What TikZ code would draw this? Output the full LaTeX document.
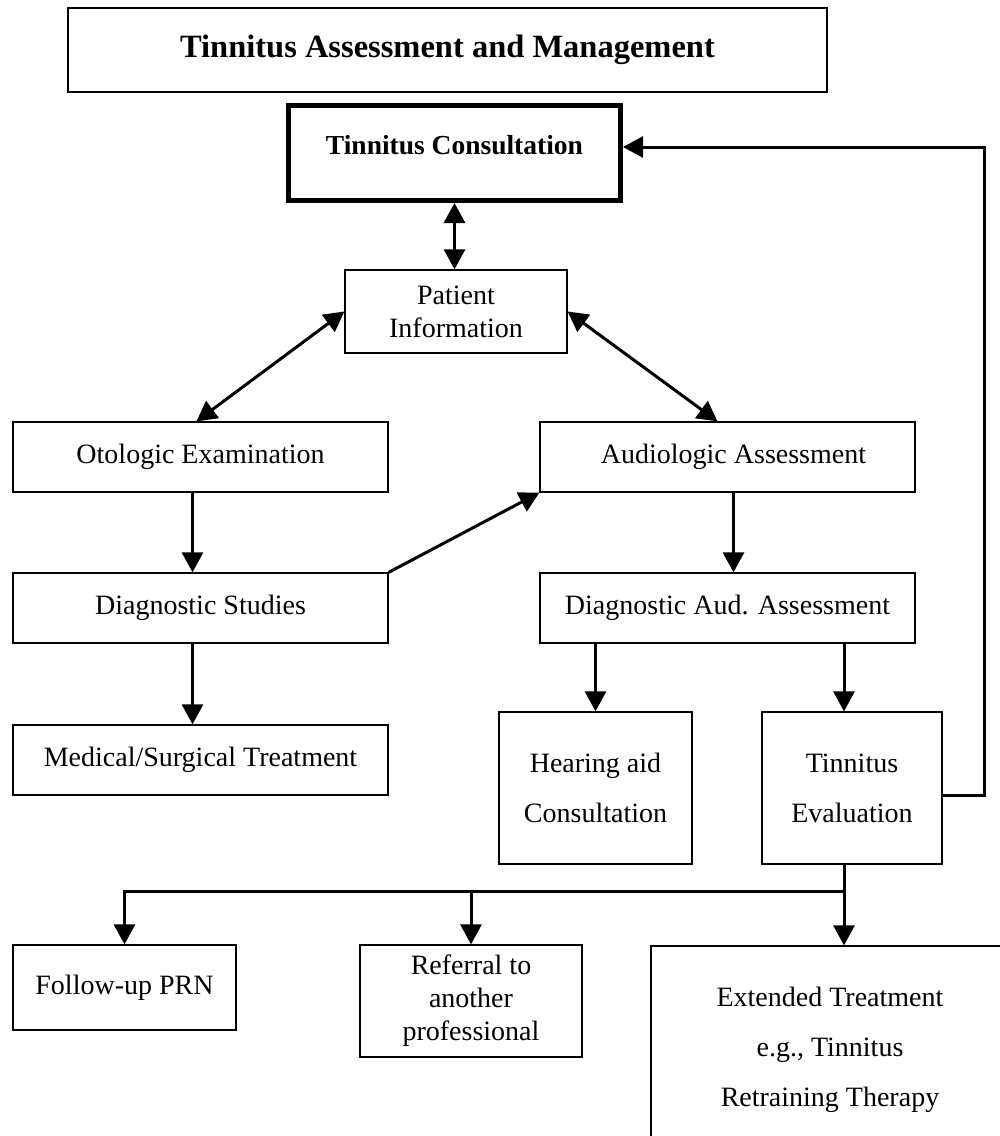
\documentclass[tikz,border=0pt]{standalone}
\usepackage{fontspec}
\setmainfont{Liberation Serif}
\usetikzlibrary{arrows.meta,calc}

\begin{document}
\begin{tikzpicture}[x=1pt,y=-1pt,
  >={Triangle[length=20pt,width=21pt]},
  box/.style={draw,line width=1.3pt,inner sep=0pt,align=center,font=\fontsize{28}{33}\selectfont},
  tallbox/.style={box,font=\fontsize{28}{50}\selectfont},
  link/.style={line width=3pt}]
 \useasboundingbox (0,0) rectangle (1000,1136);
 \node[box,minimum width=759pt,minimum height=84pt,font=\fontsize{32.5}{38}\selectfont\bfseries] (title) at (447.5,50) {Tinnitus Assessment and Management};
 \node[box,line width=5pt,minimum width=332pt,minimum height=95pt,font=\fontsize{27.5}{33}\selectfont\bfseries,text depth=16pt] (consult) at (454.5,153) {Tinnitus Consultation};
 \node[box,minimum width=222pt,minimum height=83pt] (patient) at (456,311.5) {Patient\\Information};
 \node[box,minimum width=375pt,minimum height=70pt] (oto) at (200.5,457) {Otologic Examination};
 \node[box,minimum width=375pt,minimum height=70pt] (audio) at (727.5,457) {\hspace{12pt}Audiologic Assessment};
 \node[box,minimum width=375pt,minimum height=70pt] (diag) at (200.5,608) {Diagnostic Studies};
 \node[box,minimum width=375pt,minimum height=70pt] (diagaud) at (727.5,608) {Diagnostic Aud. Assessment};
 \node[box,minimum width=375pt,minimum height=70pt] (medical) at (200.5,760) {Medical/Surgical Treatment};
 \node[tallbox,minimum width=193pt,minimum height=152pt] (hearing) at (595.5,788) {Hearing aid\\Consultation};
 \node[tallbox,minimum width=180pt,minimum height=152pt] (tineval) at (852,788) {Tinnitus\hspace{16pt}\\Evaluation\hspace{16pt}};
 \node[box,minimum width=223pt,minimum height=85pt] (follow) at (124.5,987.5) {Follow-up PRN};
 \node[box,minimum width=222pt,minimum height=112pt] (referral) at (471,1001) {Referral to\\another\\professional};
 \node[tallbox,minimum width=358pt,minimum height=208pt] (extended) at (830,1050) {Extended Treatment\\e.g., Tinnitus\\Retraining Therapy};
 \draw[link,<->] (consult.south) -- (consult.south |- patient.north);
 \draw[link,<->] (patient.west) -- ([xshift=-4pt]oto.north);
 \draw[link,<->] (patient.east) -- ([xshift=-10pt]audio.north);
 \draw[link,->] ([xshift=-8pt]oto.south) -- ([xshift=-8pt]diag.north);
 \draw[link,->] ([xshift=6pt]audio.south) -- ([xshift=6pt]diagaud.north);
 \draw[link,->] (diag.north east) -- (audio.south west);
 \draw[link,->] ([xshift=-8pt]diag.south) -- ([xshift=-8pt]medical.north);
 \draw[link,->] (diagaud.south -| hearing.north) -- (hearing.north);
 \coordinate (tevtop) at ([xshift=-8pt]tineval.north);
 \coordinate (tevbot) at ([xshift=-8pt]tineval.south);
 \draw[link,->] (tevtop |- diagaud.south) -- (tevtop);
 \coordinate (fbtop) at (984,147);
 \draw[link,->] ([yshift=-7pt]tineval.east) -| (fbtop) -- ([yshift=6pt]consult.east);
 \coordinate (bus) at ($(tevbot)+(0,27)$);
 \draw[link,->] (tevbot) -- (tevbot |- extended.north);
 \draw[link,->] (bus) -| (follow.north);
 \draw[link,->] (bus -| referral.north) -- (referral.north);
\end{tikzpicture}
\end{document}
